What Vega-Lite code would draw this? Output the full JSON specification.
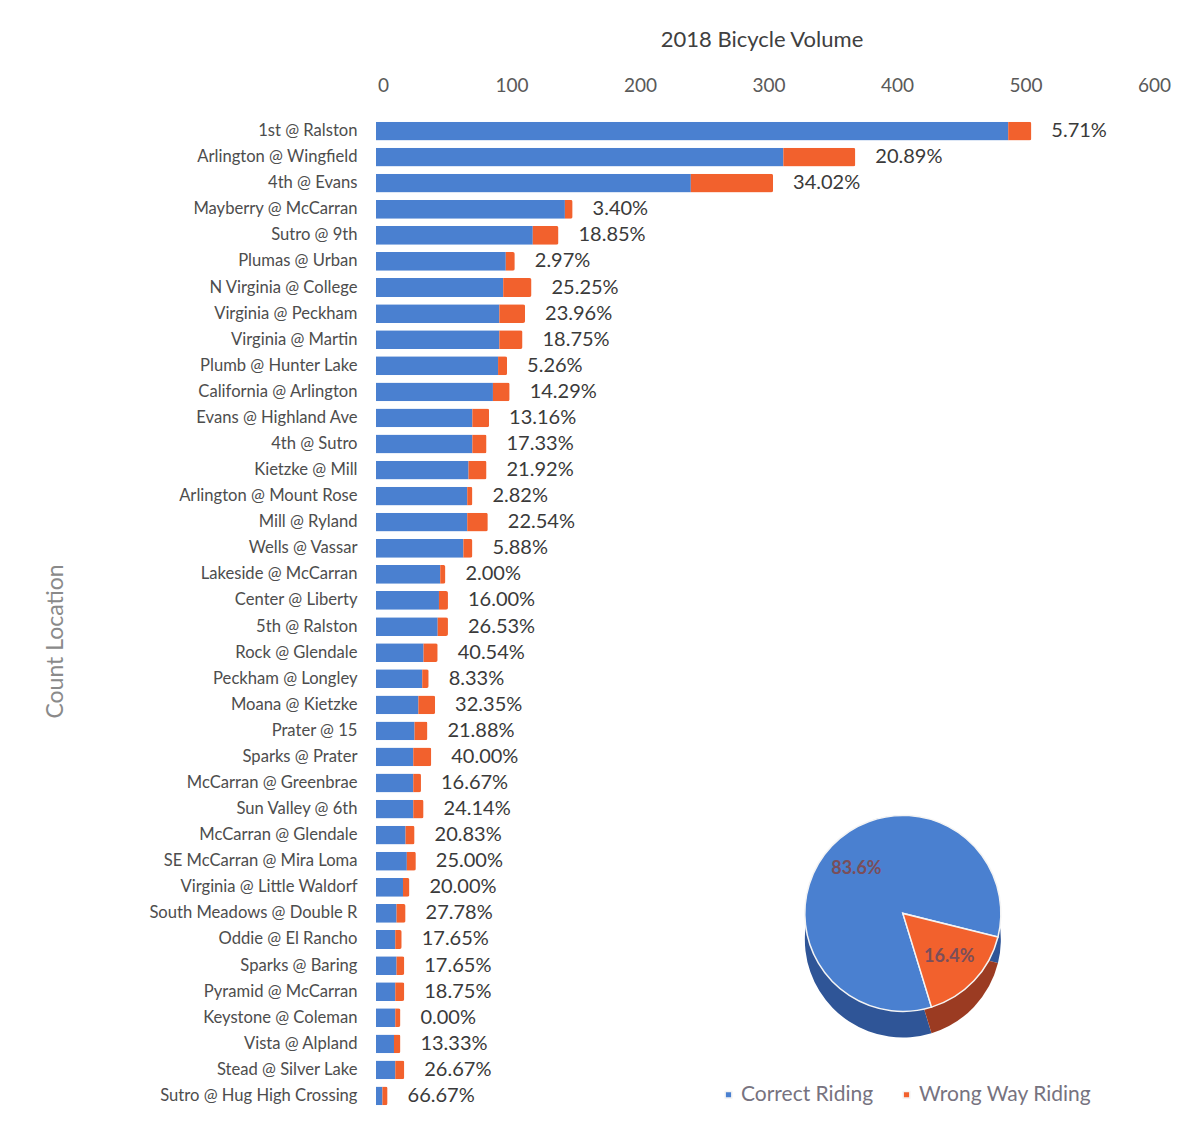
{
  "$schema": "https://vega.github.io/schema/vega-lite/v6.json",
  "width": 771,
  "height": 991,
  "autosize": "none",
  "padding": {"left": 376, "top": 118, "right": 54, "bottom": 37},
  "background": "white",
  "config": {"view": {"stroke": null}, "font": "Lato"},
  "datasets": {
    "counts": [
      {"location": "1st @ Ralston", "Correct Riding": 492, "Wrong Way Riding": 18, "pct": "5.71%"},
      {"location": "Arlington @ Wingfield", "Correct Riding": 317, "Wrong Way Riding": 56, "pct": "20.89%"},
      {"location": "4th @ Evans", "Correct Riding": 245, "Wrong Way Riding": 64, "pct": "34.02%"},
      {"location": "Mayberry @ McCarran", "Correct Riding": 147, "Wrong Way Riding": 6, "pct": "3.40%"},
      {"location": "Sutro @ 9th", "Correct Riding": 122, "Wrong Way Riding": 20, "pct": "18.85%"},
      {"location": "Plumas @ Urban", "Correct Riding": 101, "Wrong Way Riding": 7, "pct": "2.97%"},
      {"location": "N Virginia @ College", "Correct Riding": 99, "Wrong Way Riding": 22, "pct": "25.25%"},
      {"location": "Virginia @ Peckham", "Correct Riding": 96, "Wrong Way Riding": 20, "pct": "23.96%"},
      {"location": "Virginia @ Martin", "Correct Riding": 96, "Wrong Way Riding": 18, "pct": "18.75%"},
      {"location": "Plumb @ Hunter Lake", "Correct Riding": 95, "Wrong Way Riding": 7, "pct": "5.26%"},
      {"location": "California @ Arlington", "Correct Riding": 91, "Wrong Way Riding": 13, "pct": "14.29%"},
      {"location": "Evans @ Highland Ave", "Correct Riding": 75, "Wrong Way Riding": 13, "pct": "13.16%"},
      {"location": "4th @ Sutro", "Correct Riding": 75, "Wrong Way Riding": 11, "pct": "17.33%"},
      {"location": "Kietzke @ Mill", "Correct Riding": 72, "Wrong Way Riding": 14, "pct": "21.92%"},
      {"location": "Arlington @ Mount Rose", "Correct Riding": 71, "Wrong Way Riding": 4, "pct": "2.82%"},
      {"location": "Mill @ Ryland", "Correct Riding": 71, "Wrong Way Riding": 16, "pct": "22.54%"},
      {"location": "Wells @ Vassar", "Correct Riding": 68, "Wrong Way Riding": 7, "pct": "5.88%"},
      {"location": "Lakeside @ McCarran", "Correct Riding": 50, "Wrong Way Riding": 4, "pct": "2.00%"},
      {"location": "Center @ Liberty", "Correct Riding": 49, "Wrong Way Riding": 7, "pct": "16.00%"},
      {"location": "5th @ Ralston", "Correct Riding": 48, "Wrong Way Riding": 8, "pct": "26.53%"},
      {"location": "Rock @ Glendale", "Correct Riding": 37, "Wrong Way Riding": 11, "pct": "40.54%"},
      {"location": "Peckham @ Longley", "Correct Riding": 36, "Wrong Way Riding": 5, "pct": "8.33%"},
      {"location": "Moana @ Kietzke", "Correct Riding": 33, "Wrong Way Riding": 13, "pct": "32.35%"},
      {"location": "Prater @ 15", "Correct Riding": 30, "Wrong Way Riding": 10, "pct": "21.88%"},
      {"location": "Sparks @ Prater", "Correct Riding": 29, "Wrong Way Riding": 14, "pct": "40.00%"},
      {"location": "McCarran @ Greenbrae", "Correct Riding": 29, "Wrong Way Riding": 6, "pct": "16.67%"},
      {"location": "Sun Valley @ 6th", "Correct Riding": 29, "Wrong Way Riding": 8, "pct": "24.14%"},
      {"location": "McCarran @ Glendale", "Correct Riding": 23, "Wrong Way Riding": 7, "pct": "20.83%"},
      {"location": "SE McCarran @ Mira Loma", "Correct Riding": 24, "Wrong Way Riding": 7, "pct": "25.00%"},
      {"location": "Virginia @ Little Waldorf", "Correct Riding": 21, "Wrong Way Riding": 5, "pct": "20.00%"},
      {"location": "South Meadows @ Double R", "Correct Riding": 16, "Wrong Way Riding": 7, "pct": "27.78%"},
      {"location": "Oddie @ El Rancho", "Correct Riding": 15, "Wrong Way Riding": 5, "pct": "17.65%"},
      {"location": "Sparks @ Baring", "Correct Riding": 16, "Wrong Way Riding": 6, "pct": "17.65%"},
      {"location": "Pyramid @ McCarran", "Correct Riding": 15, "Wrong Way Riding": 7, "pct": "18.75%"},
      {"location": "Keystone @ Coleman", "Correct Riding": 15, "Wrong Way Riding": 4, "pct": "0.00%"},
      {"location": "Vista @ Alpland", "Correct Riding": 14, "Wrong Way Riding": 5, "pct": "13.33%"},
      {"location": "Stead @ Silver Lake", "Correct Riding": 15, "Wrong Way Riding": 7, "pct": "26.67%"},
      {"location": "Sutro @ Hug High Crossing", "Correct Riding": 5, "Wrong Way Riding": 4, "pct": "66.67%"}
    ],
    "pie": [
      {"key": "Correct Riding", "share": 83.6, "label": "83.6%"},
      {"key": "Wrong Way Riding", "share": 16.4, "label": "16.4%"}
    ]
  },
  "layer": [
    {
      "data": {"name": "counts"},
      "transform": [{"fold": ["Correct Riding", "Wrong Way Riding"], "as": ["key", "value"]}],
      "mark": {"type": "bar", "cornerRadiusEnd": 2},
      "encoding": {
        "y": {
          "field": "location", "type": "nominal", "sort": null,
          "scale": {"paddingInner": 0.28, "paddingOuter": 0.14},
          "axis": {
            "title": "Count Location", "domain": false, "ticks": false, "labelPadding": 19, "labelLimit": 0,
            "labelFontSize": 16.6, "labelColor": "#4d4d4d", "labelFont": "Lato",
            "titleFontSize": 23, "titleColor": "#8a8a8a", "titleFontWeight": "normal", "titleFont": "Lato",
            "titleX": -321, "titleY": 523, "titleAngle": -90, "titleBaseline": "middle", "titleAlign": "center"
          }
        },
        "x": {
          "field": "value", "type": "quantitative", "stack": "zero",
          "scale": {"domain": [0, 600], "nice": false},
          "axis": {
            "orient": "top", "title": "2018 Bicycle Volume", "values": [0, 100, 200, 300, 400, 500, 600],
            "grid": false, "domain": false, "ticks": false, "tickSize": 0, "labelPadding": 23,
            "labelFlush": false, "labelOffset": 7, "labelBound": false,
            "labelFontSize": 19, "labelColor": "#595959", "labelFont": "Lato",
            "titleFontSize": 22, "titleColor": "#404040", "titleFontWeight": "normal", "titleFont": "Lato", "titlePadding": 25
          }
        },
        "color": {
          "field": "key", "type": "nominal",
          "scale": {"domain": ["Correct Riding", "Wrong Way Riding"], "range": ["#4A80D0", "#F2612D"]},
          "legend": {
            "title": null, "orient": "none", "direction": "horizontal", "legendX": 342, "legendY": 966,
            "symbolType": "square", "symbolSize": 45, "labelFontSize": 21, "labelColor": "#77737f",
            "labelFont": "Lato", "columnPadding": 22, "labelOffset": 2, "labelLimit": 0
          }
        }
      }
    },
    {
      "data": {"name": "counts"},
      "transform": [{"fold": ["Correct Riding", "Wrong Way Riding"], "as": ["key", "value"]}],
      "mark": {"type": "text", "align": "left", "baseline": "middle", "dx": 20, "fontSize": 20, "color": "#3a3a3a", "font": "Lato"},
      "encoding": {
        "y": {"field": "location", "type": "nominal", "sort": null},
        "x": {"aggregate": "sum", "field": "value", "type": "quantitative"},
        "text": {"field": "pct", "type": "nominal"}
      }
    },
    {
      "data": {"name": "pie"},
      "mark": {"type": "arc", "outerRadius": 98},
      "encoding": {
        "theta": {"field": "share", "type": "quantitative", "stack": true, "scale": {"range": [2.845, 9.128]}},
        "order": {"field": "key", "type": "nominal", "sort": "ascending"},
        "x": {"datum": 410, "type": "quantitative"},
        "y": {"datum": "Oddie @ El Rancho", "type": "nominal"},
        "color": {"condition": {"test": "datum.key === 'Correct Riding'", "value": "#2F5597"}, "value": "#9B3B22"}
      }
    },
    {
      "data": {"name": "pie"},
      "mark": {"type": "arc", "outerRadius": 98, "stroke": "#f4f4f4", "strokeWidth": 1.5},
      "encoding": {
        "theta": {"field": "share", "type": "quantitative", "stack": true},
        "order": {"field": "key", "type": "nominal", "sort": "ascending"},
        "x": {"datum": 410, "type": "quantitative"},
        "y": {"datum": "South Meadows @ Double R", "type": "nominal"},
        "color": {"field": "key", "type": "nominal"}
      }
    },
    {
      "data": {"name": "pie"},
      "mark": {"type": "text", "radius": 64, "fontSize": 18, "fontWeight": "bold", "color": "#7A4E5A", "font": "Lato"},
      "encoding": {
        "theta": {"field": "share", "type": "quantitative", "stack": true},
        "order": {"field": "key", "type": "nominal", "sort": "ascending"},
        "x": {"datum": 410, "type": "quantitative"},
        "y": {"datum": "South Meadows @ Double R", "type": "nominal"},
        "text": {"field": "label", "type": "nominal"}
      }
    }
  ]
}
